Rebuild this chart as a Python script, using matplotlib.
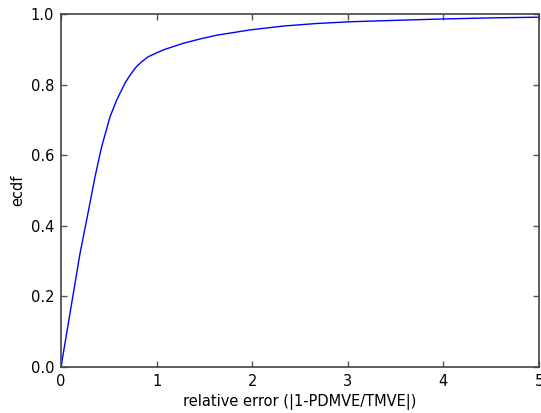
import matplotlib
matplotlib.use("Agg")
import matplotlib.pyplot as plt

err = [0.0, 0.094, 0.199, 0.268, 0.356, 0.425, 0.513, 0.582, 0.669, 0.73, 0.79, 0.85, 0.913,
       1.0, 1.088, 1.28, 1.45, 1.63, 1.98, 2.33, 2.67, 3.02, 3.5, 4.0, 4.5, 5.0]
ecdf = [0.0, 0.152, 0.322, 0.416, 0.539, 0.624, 0.709, 0.756, 0.804, 0.830, 0.851, 0.866, 0.879,
        0.890, 0.900, 0.917, 0.929, 0.940, 0.955, 0.966, 0.973, 0.978, 0.982, 0.986, 0.989, 0.991]

xticks = [0, 1, 2, 3, 4, 5]
yticks = [0.0, 0.2, 0.4, 0.6, 0.8, 1.0]

fig = plt.figure(figsize=(5.41, 4.13), dpi=100, facecolor="white")
ax = fig.add_axes([61/541, 1 - 367/413, (539 - 61)/541, (367 - 14)/413])
ax.plot(err, ecdf, color="blue", lw=1)
ax.set_xlim(0, 5)
ax.set_ylim(0, 1)
ax.set_xticks(xticks)
ax.set_yticks(yticks)
ax.set_yticklabels([f"{v:.1f}" for v in yticks])
ax.tick_params(direction="in", top=True, right=True, length=4, width=1,
               labelsize=10.5, color="#555555", pad=5)
for s in ax.spines.values():
    s.set_color("#444444")
    s.set_linewidth(1.2)
ax.set_xlabel("relative error (|1-PDMVE/TMVE|)", fontsize=10.5)
ax.set_ylabel("ecdf", fontsize=10.5)
fig.savefig("out.png", dpi=100, facecolor="white")
